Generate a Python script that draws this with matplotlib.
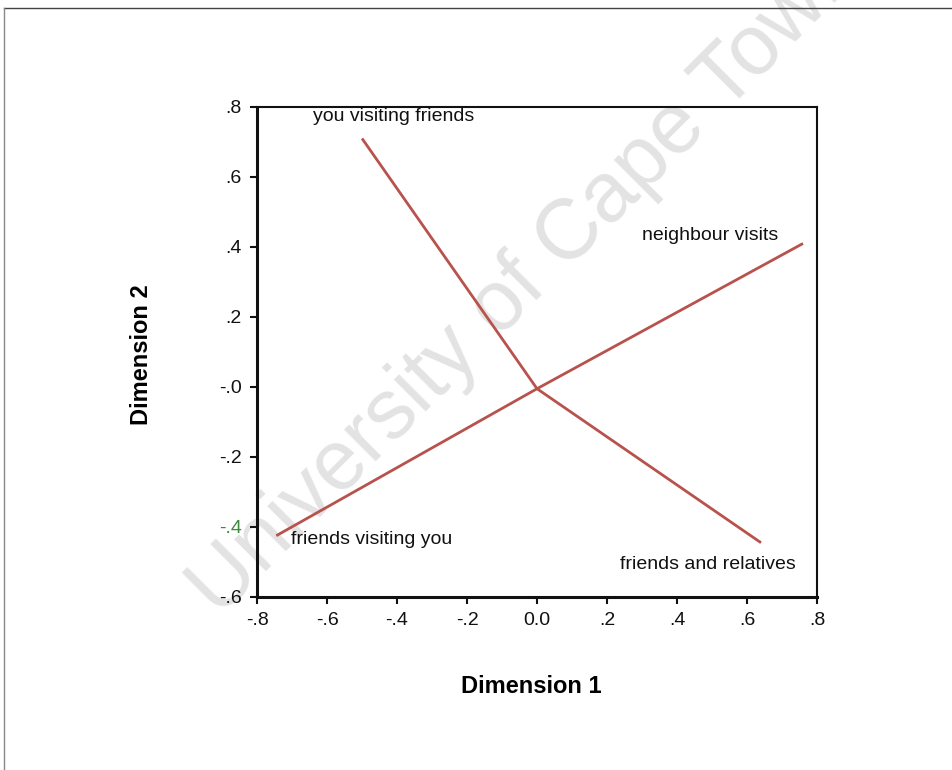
import matplotlib.pyplot as plt
from matplotlib.lines import Line2D

plt.rcParams['font.family'] = ['Liberation Sans', 'DejaVu Sans']

# category points (dimension 1, dimension 2), each joined to the origin
labels = ['you visiting friends', 'neighbour visits', 'friends visiting you', 'friends and relatives']
dim1 = [-0.50, 0.76, -0.745, 0.64]
dim2 = [0.71, 0.41, -0.425, -0.445]
origin = (0.0, -0.005)

xticks = [-0.8, -0.6, -0.4, -0.2, 0.0, 0.2, 0.4, 0.6, 0.8]
xticklabels = ['-.8', '-.6', '-.4', '-.2', '0.0', '.2', '.4', '.6', '.8']
yticks = [-0.6, -0.4, -0.2, 0.0, 0.2, 0.4, 0.6, 0.8]
yticklabels = ['-.6', '-.4', '-.2', '-.0', '.2', '.4', '.6', '.8']

# where each label sits (left edge, vertical centre)
label_pos = [(-0.64, 0.772), (0.30, 0.434), (-0.703, -0.437), (0.237, -0.506)]

fig = plt.figure(figsize=(9.53, 7.70), dpi=100)
ax = fig.add_axes([0.2697, 0.2247, 0.5876, 0.6364])
ax.set_facecolor('none')

# watermark, drawn under the axes
fig.text(0.552, 0.636, 'University of Cape Town', fontsize=61, color='#e3e3e3',
         rotation=45, rotation_mode='anchor', ha='center', va='center', zorder=-1)

red = '#b8524c'
for x, y in zip(dim1, dim2):
    ax.plot([origin[0], x], [origin[1], y], color=red, lw=2, solid_capstyle='butt')

for (tx, ty), lab in zip(label_pos, labels):
    ax.text(tx, ty, lab, fontsize=14, ha='left', va='center', color='#111111')

ax.set_xlim(-0.8, 0.8)
ax.set_ylim(-0.6, 0.8)
ax.set_xticks(xticks)
ax.set_xticklabels(xticklabels)
ax.set_yticks(yticks)
ax.set_yticklabels(yticklabels)
ax.tick_params(labelsize=14, length=5, width=1.5, direction='out', pad=6, colors='#111111')
ax.get_yticklabels()[1].set_color('#3d8a3d')

for side, sp in ax.spines.items():
    sp.set_linewidth(1.5)
    sp.set_color('#111111')
ax.spines['left'].set_linewidth(2.2)
ax.spines['bottom'].set_linewidth(2.2)

ax.set_xlabel('Dimension 1', fontsize=17, fontweight='bold')
ax.set_ylabel('Dimension 2', fontsize=17, fontweight='bold')
ax.xaxis.set_label_coords(0.489, -0.182)
ax.yaxis.set_label_coords(-0.207, 0.494)
ax.xaxis.label.set_va('center')
ax.yaxis.label.set_va('center')

# page frame lines (top and left)
fig.add_artist(Line2D([0.0042, 1.0], [0.9896, 0.9896], color='#444444', lw=1))
fig.add_artist(Line2D([0.0042, 0.0042], [0.0, 0.9896], color='#888888', lw=1))

fig.savefig('out.png', dpi=100)
